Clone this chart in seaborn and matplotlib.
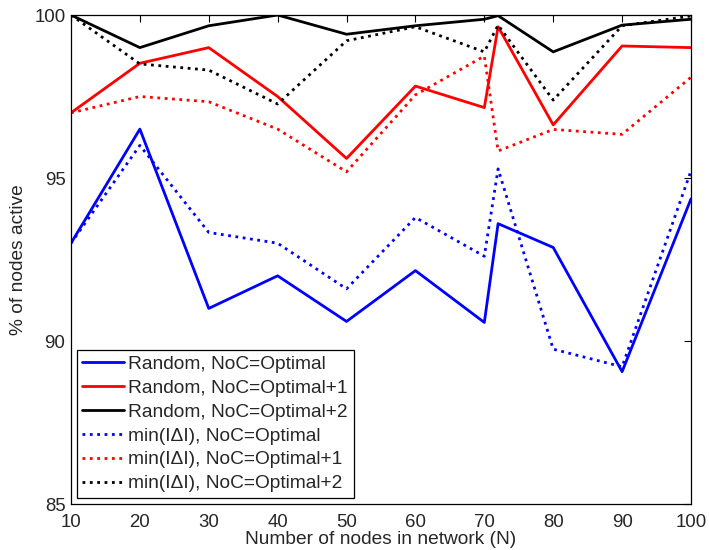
import numpy as np
import pandas as pd
import matplotlib
matplotlib.use("Agg")
import matplotlib.pyplot as plt
import seaborn as sns

N = [10, 20, 30, 40, 50, 60, 70, 72, 80, 90, 100]

rand_opt  = [93.0, 96.5, 91.0, 92.0, 90.6, 92.16, 90.57, 93.6, 92.87, 89.06, 94.36]
rand_opt1 = [97.0, 98.52, 99.0, 97.5, 95.6, 97.82, 97.16, 99.64, 96.63, 99.05, 99.0]
rand_opt2 = [100.0, 99.0, 99.67, 100.0, 99.41, 99.67, 99.87, 99.98, 98.87, 99.69, 99.87]
min_opt   = [93.0, 96.0, 93.33, 93.0, 91.6, 93.79, 92.6, 95.28, 89.75, 89.21, 95.22]
min_opt1  = [97.0, 97.5, 97.34, 96.5, 95.19, 97.55, 98.74, 95.83, 96.49, 96.34, 98.09]
min_opt2  = [100.0, 98.5, 98.31, 97.27, 99.21, 99.64, 98.87, 99.69, 97.39, 99.67, 99.97]

labels = ["Random, NoC=Optimal", "Random, NoC=Optimal+1", "Random, NoC=Optimal+2",
          "min(I\u0394I), NoC=Optimal", "min(I\u0394I), NoC=Optimal+1", "min(I\u0394I), NoC=Optimal+2"]
series = [rand_opt, rand_opt1, rand_opt2, min_opt, min_opt1, min_opt2]
colors = ["#0000ff", "#ff0000", "#000000", "#0000ff", "#ff0000", "#000000"]
styles = ["-", "-", "-", ":", ":", ":"]

sns.set_style("white")
plt.rcParams['font.family'] = ['Liberation Sans', 'DejaVu Sans']

FS = 13.8
TS = 13.4
fig = plt.figure(figsize=(7.09, 5.5), dpi=100)
ax = fig.add_axes([0.1001, 0.0836, 0.8745, 0.8891])

for lab, vals, c, ls in zip(labels, series, colors, styles):
    df = pd.DataFrame({"N": N, "v": vals})
    sns.lineplot(data=df, x="N", y="v", ax=ax, color=c, linestyle=ls,
                 linewidth=2.0, label=lab, sort=False)

ax.set_xlim(10, 100)
ax.set_ylim(85, 100)
ax.set_xticks([10, 20, 30, 40, 50, 60, 70, 80, 90, 100])
ax.set_yticks([85, 90, 95, 100])
ax.tick_params(axis='both', which='both', direction='in', length=5, width=0.8,
               top=True, right=True, labelsize=TS, color='black')
ax.tick_params(axis='x', pad=7)
ax.tick_params(axis='y', pad=4)
for s in ax.spines.values():
    s.set_color('black')
    s.set_linewidth(0.9)
ax.set_xlabel("Number of nodes in network (N)", fontsize=FS, labelpad=0)
ax.set_ylabel("% of nodes active", fontsize=FS, labelpad=5)

leg = ax.legend(loc="lower left", bbox_to_anchor=(0.009, 0.012), fontsize=FS,
                frameon=True, fancybox=False, edgecolor='black', framealpha=1,
                handlelength=2.15, handletextpad=0.25, labelspacing=0.34,
                borderpad=0.3, borderaxespad=0)
leg.get_frame().set_linewidth(0.9)

fig.savefig("out.png", dpi=100)
